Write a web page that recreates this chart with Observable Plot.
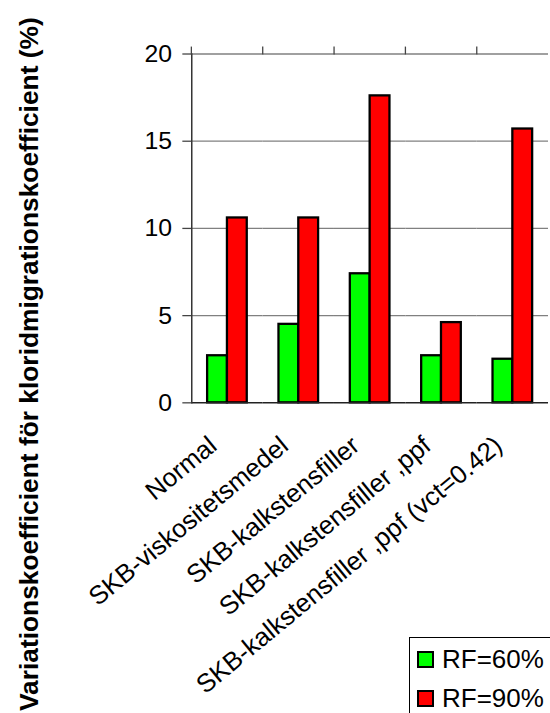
<!DOCTYPE html>
<html>
<head>
<meta charset="utf-8">
<script src="https://cdn.jsdelivr.net/npm/d3@7"></script>
<script src="https://cdn.jsdelivr.net/npm/@observablehq/plot@0.6"></script>
<style>
  html, body { margin: 0; padding: 0; background: #fff; overflow: hidden; }
  #wrap { position: relative; width: 550px; height: 713px; overflow: hidden; font-family: "Liberation Sans", Arial, sans-serif; }
  #chart { position: absolute; left: 0; top: 0; }
  #legend { position: absolute; left: 409px; top: 637px; width: 200px; height: 120px; border: 1.5px solid #000; background: #fff; box-sizing: border-box; }
  .item { position: absolute; left: 7px; display: flex; align-items: center; font-size: 26px; line-height: 26px; color: #000; }
  .sw { width: 17px; height: 17px; border: 2px solid #000; box-sizing: border-box; margin-right: 8px; }
</style>
</head>
<body>
<div id="wrap">
  <div id="chart"></div>
  <div id="legend"></div>
</div>
<script>
const categories = [
  "Normal",
  "SKB-viskositetsmedel",
  "SKB-kalkstensfiller",
  "SKB-kalkstensfiller ,ppf",
  "SKB-kalkstensfiller ,ppf (vct=0.42)"
];
const series = ["RF=60%", "RF=90%"];
const colors = ["#00ff00", "#ff0000"];
const rf60 = [2.7, 4.5, 7.4, 2.7, 2.5];
const rf90 = [10.6, 10.6, 17.6, 4.6, 15.7];
const yTicks = [0, 5, 10, 15, 20];
const yTitle = "Variationskoefficient för kloridmigrationskoefficient (%)";

const data = categories.flatMap((c, i) => [
  {cat: c, s: series[0], v: rf60[i]},
  {cat: c, s: series[1], v: rf90[i]}
]);

const W = 555, H = 713, ML = 191, MR = 0, MT = 54, MB = 307;
const step = (W - ML - MR) / categories.length;

const chart = Plot.plot({
  width: W,
  height: H,
  marginLeft: ML,
  marginRight: MR,
  marginTop: MT,
  marginBottom: MB,
  style: {fontFamily: "'Liberation Sans', Arial, sans-serif", fontSize: "25px", background: "transparent", overflow: "visible"},
  fx: {domain: categories, padding: 0, label: null},
  x: {domain: series, paddingInner: 0, paddingOuter: 0.73, axis: null},
  y: {domain: [0, 20], axis: null},
  color: {domain: series, range: colors},
  marks: [
    Plot.ruleY(yTicks.filter(t => t > 0), {stroke: "#808080", strokeWidth: 1.3}),
    Plot.barY(data, {fx: "cat", x: "s", y: "v", fill: "s", stroke: "#000", strokeWidth: 2.3}),
    Plot.ruleY([0], {stroke: "#222", strokeWidth: 1.5}),
    Plot.frame({anchor: "left", facetAnchor: "left", stroke: "#333", strokeWidth: 1.5}),
    Plot.axisY({ticks: yTicks, tickSize: 9, tickPadding: 11, fontSize: 25, label: null, stroke: "#444", strokeWidth: 1.3}),
    Plot.axisFx({tickSize: 8, tickFormat: () => "", dx: -step / 2, stroke: "#444", strokeWidth: 1.3, label: null}),
    Plot.text(categories, {fx: d => d, text: d => d, frameAnchor: "bottom", dx: -9, dy: 46, rotate: -39.5, textAnchor: "end", lineAnchor: "bottom", fontSize: 26, fill: "#000"}),
    Plot.text([yTitle], {frameAnchor: "left", facetAnchor: "left", dx: -155, dy: 137, rotate: -90, textAnchor: "middle", lineAnchor: "bottom", fontSize: 26.6, fontWeight: "bold", fill: "#000"})
  ]
});
document.getElementById("chart").appendChild(chart);

const legend = document.getElementById("legend");
series.forEach((s, i) => {
  const item = document.createElement("div");
  item.className = "item";
  item.style.top = (8 + i * 39) + "px";
  const sw = document.createElement("div");
  sw.className = "sw";
  sw.style.background = colors[i];
  const t = document.createElement("span");
  t.textContent = s;
  item.appendChild(sw);
  item.appendChild(t);
  legend.appendChild(item);
});
</script>
</body>
</html>
